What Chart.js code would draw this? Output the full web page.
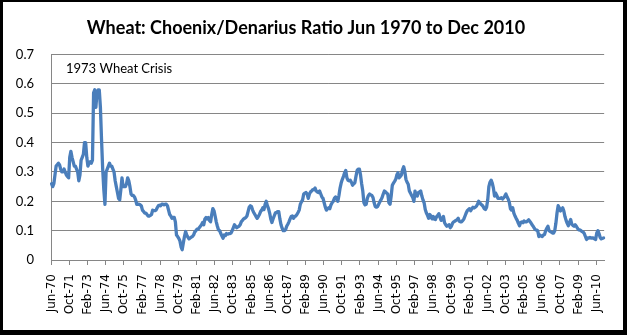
<!DOCTYPE html>
<html>
<head>
<meta charset="utf-8">
<script src="https://cdn.jsdelivr.net/npm/chart.js@4.4.0/dist/chart.umd.min.js"></script>
<style>
  html, body { margin: 0; padding: 0; background: #fff; }
  #frame { position: absolute; left: 0; top: 0; width: 627px; height: 335px; background: #000; }
  #inner { position: absolute; left: 3px; top: 2px; width: 620px; height: 328px; background: #fff; }
  #wrap { position: absolute; left: 0; top: 0; width: 627px; height: 335px; }
</style>
</head>
<body>
<div id="frame"><div id="inner"></div></div>
<div id="wrap"><canvas id="myChart" width="627" height="335"></canvas></div>
<script>
// monthly choenix/denarius ratio, Jun 1970 .. Dec 2010 (one row = Jun..May)
const ratio = [
  0.26, 0.25, 0.26, 0.29, 0.32, 0.325, 0.33, 0.325, 0.31, 0.30, 0.30, 0.31,
  0.30, 0.29, 0.285, 0.28, 0.35, 0.37, 0.35, 0.335, 0.32, 0.32, 0.31, 0.30,
  0.27, 0.29, 0.34, 0.35, 0.36, 0.40, 0.40, 0.35, 0.32, 0.33, 0.335, 0.33,
  0.34, 0.57, 0.58, 0.52, 0.57, 0.58, 0.58, 0.52, 0.41, 0.31, 0.24, 0.19,
  0.30, 0.31, 0.32, 0.33, 0.32, 0.32, 0.31, 0.30, 0.27, 0.25, 0.23, 0.21,
  0.205, 0.24, 0.28, 0.25, 0.25, 0.25, 0.26, 0.28, 0.27, 0.25, 0.225, 0.22,
  0.22, 0.215, 0.205, 0.19, 0.19, 0.19, 0.188, 0.185, 0.17, 0.165, 0.16, 0.16,
  0.155, 0.15, 0.15, 0.152, 0.155, 0.17, 0.168, 0.168, 0.17, 0.178, 0.185, 0.187,
  0.185, 0.19, 0.19, 0.188, 0.19, 0.19, 0.185, 0.17, 0.155, 0.15, 0.142, 0.145,
  0.145, 0.13, 0.085, 0.08, 0.074, 0.065, 0.045, 0.035, 0.058, 0.08, 0.097, 0.085,
  0.078, 0.072, 0.075, 0.078, 0.08, 0.085, 0.095, 0.1, 0.105, 0.105, 0.11, 0.115,
  0.12, 0.128, 0.12, 0.14, 0.145, 0.14, 0.145, 0.135, 0.13, 0.155, 0.175, 0.168,
  0.15, 0.13, 0.115, 0.102, 0.1, 0.09, 0.082, 0.074, 0.085, 0.083, 0.09, 0.088,
  0.09, 0.09, 0.092, 0.1, 0.11, 0.12, 0.115, 0.11, 0.113, 0.115, 0.12, 0.13,
  0.135, 0.14, 0.142, 0.145, 0.15, 0.165, 0.18, 0.185, 0.182, 0.17, 0.162, 0.155,
  0.148, 0.142, 0.148, 0.155, 0.165, 0.17, 0.178, 0.172, 0.19, 0.2, 0.185, 0.175,
  0.16, 0.14, 0.128, 0.14, 0.15, 0.16, 0.162, 0.165, 0.165, 0.14, 0.12, 0.108,
  0.1, 0.1, 0.103, 0.115, 0.122, 0.13, 0.14, 0.148, 0.15, 0.142, 0.148, 0.15,
  0.155, 0.162, 0.17, 0.19, 0.198, 0.205, 0.225, 0.228, 0.23, 0.225, 0.21, 0.225,
  0.232, 0.235, 0.24, 0.24, 0.245, 0.235, 0.232, 0.23, 0.235, 0.225, 0.215, 0.21,
  0.195, 0.18, 0.17, 0.175, 0.178, 0.175, 0.188, 0.195, 0.2, 0.21, 0.215, 0.21,
  0.2, 0.22, 0.245, 0.263, 0.275, 0.285, 0.297, 0.305, 0.28, 0.272, 0.27, 0.272,
  0.265, 0.255, 0.26, 0.263, 0.285, 0.305, 0.31, 0.31, 0.29, 0.26, 0.235, 0.195,
  0.188, 0.19, 0.21, 0.22, 0.225, 0.222, 0.22, 0.213, 0.195, 0.182, 0.18, 0.182,
  0.19, 0.198, 0.205, 0.213, 0.225, 0.235, 0.232, 0.228, 0.225, 0.195, 0.19, 0.218,
  0.255, 0.262, 0.268, 0.275, 0.29, 0.297, 0.28, 0.285, 0.29, 0.307, 0.318, 0.302,
  0.275, 0.265, 0.258, 0.235, 0.228, 0.22, 0.213, 0.2, 0.235, 0.22, 0.218, 0.23,
  0.232, 0.235, 0.218, 0.205, 0.195, 0.172, 0.16, 0.152, 0.142, 0.155, 0.15, 0.14,
  0.148, 0.14, 0.138, 0.148, 0.152, 0.158, 0.145, 0.135, 0.14, 0.148, 0.127, 0.12,
  0.115, 0.118, 0.12, 0.11, 0.115, 0.125, 0.13, 0.132, 0.135, 0.137, 0.142, 0.132,
  0.13, 0.13, 0.135, 0.14, 0.15, 0.16, 0.168, 0.172, 0.175, 0.168, 0.175, 0.18,
  0.177, 0.18, 0.183, 0.19, 0.2, 0.195, 0.19, 0.187, 0.182, 0.175, 0.172, 0.18,
  0.205, 0.25, 0.265, 0.272, 0.262, 0.245, 0.218, 0.228, 0.22, 0.21, 0.21, 0.21,
  0.212, 0.208, 0.212, 0.218, 0.225, 0.215, 0.208, 0.197, 0.175, 0.17, 0.178, 0.16,
  0.15, 0.142, 0.135, 0.125, 0.117, 0.128, 0.13, 0.127, 0.133, 0.13, 0.13, 0.133,
  0.137, 0.132, 0.127, 0.12, 0.115, 0.108, 0.103, 0.102, 0.1, 0.08, 0.085, 0.082,
  0.08, 0.085, 0.087, 0.1, 0.108, 0.115, 0.1, 0.097, 0.095, 0.092, 0.092, 0.1,
  0.125, 0.16, 0.185, 0.178, 0.167, 0.172, 0.178, 0.167, 0.148, 0.135, 0.125, 0.117,
  0.128, 0.138, 0.122, 0.118, 0.115, 0.12, 0.115, 0.108, 0.103, 0.103, 0.1, 0.097,
  0.095, 0.09, 0.08, 0.07, 0.075, 0.075, 0.077, 0.075, 0.075, 0.075, 0.072, 0.07,
  0.092, 0.1, 0.09, 0.077, 0.072, 0.074, 0.075
];

const MONTHS = ['Jan','Feb','Mar','Apr','May','Jun','Jul','Aug','Sep','Oct','Nov','Dec'];
const TICK_EVERY = 16; // a label every 16 months, as in the original

// categories "Jun-70" ... "Dec-10"
const months = [];
for (let i = 0; i < ratio.length; i++) {
    let m = (5 + i) % 12;
    let y = 1970 + Math.floor((5 + i) / 12);
    months.push(MONTHS[m] + '-' + String(y % 100).padStart(2, '0'));
}

const yTicks = [0, 0.1, 0.2, 0.3, 0.4, 0.5, 0.6, 0.7];
const GRID = '#868686';

// "1973 Wheat Crisis" note in the top left corner
const crisisNote = {
    id: 'crisisNote',
    afterDatasetsDraw(chart) {
        const ctx = chart.ctx;
        ctx.save();
        ctx.font = '13px Lato';
        ctx.fillStyle = '#000';
        ctx.textBaseline = 'middle';
        ctx.fillText('1973 Wheat Crisis', chart.chartArea.left + 15, chart.scales.y.getPixelForValue(0.65));
        ctx.restore();
    }
};

const data = {
    labels: months,
    datasets: [{
        label: 'Ratio',
        data: ratio,
        borderColor: '#4A7EBB',
        borderWidth: 3.3,
        borderJoinStyle: 'round',
        borderCapStyle: 'round',
        pointRadius: 0,
        tension: 0,
        fill: false
    }]
};

const config = {
    type: 'line',
    data: data,
    options: {
        responsive: false,
        animation: false,
        devicePixelRatio: 1,
        layout: { padding: { left: 0, right: 15, top: 0, bottom: 0 } },
        plugins: {
            legend: { display: false },
            tooltip: { enabled: false },
            title: {
                display: true,
                text: 'Wheat: Choenix/Denarius Ratio Jun 1970 to Dec 2010',
                color: '#000',
                font: { family: 'Lato', size: 18, weight: 'bold' },
                padding: { top: 17, bottom: 16 }
            }
        },
        scales: {
            x: {
                type: 'category',
                offset: true,
                afterFit: (s) => { s.height = 75; },
                grid: {
                    offset: true,
                    drawOnChartArea: false,
                    drawTicks: true,
                    tickLength: 5,
                    color: (c) => c.index % TICK_EVERY === 0 ? GRID : 'rgba(0,0,0,0)'
                },
                border: { color: GRID },
                ticks: {
                    autoSkip: false,
                    maxRotation: 90,
                    minRotation: 90,
                    padding: 9,
                    color: '#000',
                    font: { family: 'DejaVu Sans', size: 12 },
                    callback: function (val, idx) {
                        return idx % TICK_EVERY === 0 ? this.getLabelForValue(val) : '';
                    }
                }
            },
            y: {
                min: 0,
                max: 0.7,
                afterFit: (s) => { s.width = 51; },
                afterBuildTicks: (s) => { s.ticks = yTicks.map(v => ({ value: v })); },
                grid: { color: GRID, drawTicks: false },
                border: { color: GRID },
                ticks: {
                    padding: 17,
                    color: '#000',
                    font: { family: 'Lato', size: 13 },
                    callback: (v) => String(v)
                }
            }
        }
    },
    plugins: [crisisNote]
};

const ctxChart = document.getElementById('myChart').getContext('2d');
const chart = new Chart(ctxChart, config);
</script>
</body>
</html>
